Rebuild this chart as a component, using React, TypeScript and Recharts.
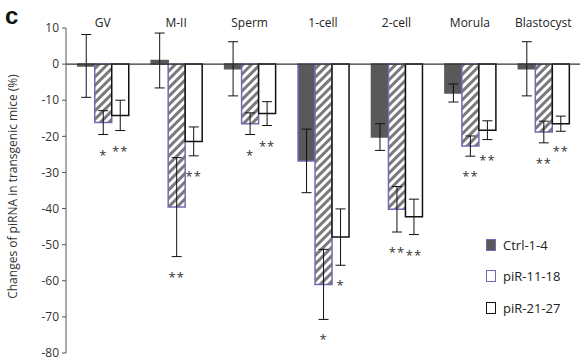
import React from "react";
import {
  BarChart,
  Bar,
  XAxis,
  YAxis,
  ErrorBar,
  ReferenceLine,
  LabelList,
  Cell,
} from "recharts";

const STAGES = ["GV", "M-II", "Sperm", "1-cell", "2-cell", "Morula", "Blastocyst"];
const CTRL = [-0.5, 1, -1.3, -26.8, -20.2, -8, -1.3];
const CTRL_ERR = [8.7, 7.6, 7.5, 8.8, 3.7, 2.5, 7.5];
const PIR11 = [-16.2, -39.6, -16.5, -61, -40.2, -22.7, -18.8];
const PIR11_ERR = [3.3, 13.7, 3, 9.7, 6.3, 2.8, 3];
const PIR21 = [-14.2, -21.4, -13.7, -47.9, -42.3, -18.3, -16.5];
const PIR21_ERR = [4.2, 4, 3.3, 7.8, 4.9, 2.6, 2.1];
const PIR11_SIG = ["*", "**", "*", "*", "**", "**", "**"];
const PIR21_SIG = ["**", "**", "**", "*", "**", "**", "**"];
const Y_TICKS = [10, 0, -10, -20, -30, -40, -50, -60, -70, -80];

const FONT = "'Open Sans', sans-serif";
const DARK = "#595959";
const PURPLE = "#6f6db0";

const data = STAGES.map((stage, i) => ({
  stage,
  ctrl: CTRL[i],
  ctrlErr: CTRL_ERR[i],
  pir11: PIR11[i],
  pir11Err: PIR11_ERR[i],
  pir21: PIR21[i],
  pir21Err: PIR21_ERR[i],
}));

// stars sit a little below the lower whisker of each bar
function sigLabel(sig: string[], means: number[], errs: number[]) {
  return (props: any) => {
    const vb = props.viewBox ?? props;
    const i = props.index ?? means.indexOf(props.value);
    const text = sig[i];
    if (!text || vb == null) return null;
    const top = Math.min(vb.y, vb.y + vb.height);
    const bottom = Math.max(vb.y, vb.y + vb.height);
    const k = (bottom - top) / Math.abs(means[i]);
    const yErr = bottom + errs[i] * k;
    return (
      <text
        x={vb.x + vb.width / 2}
        y={yErr + 25}
        textAnchor="middle"
        fontSize={13}
        fontFamily={FONT}
        fill="#333"
        letterSpacing={1}
      >
        {text}
      </text>
    );
  };
}

const LEGEND = [
  { name: "Ctrl-1-4", fill: DARK, stroke: PURPLE },
  { name: "piR-11-18", fill: "#fff", stroke: PURPLE },
  { name: "piR-21-27", fill: "#fff", stroke: "#111" },
];

function LegendBox() {
  return (
    <div
      style={{
        position: "absolute",
        left: 486,
        top: 229,
        fontFamily: FONT,
        fontSize: 13,
        color: "#222",
      }}
    >
      {LEGEND.map((l) => (
        <div key={l.name} style={{ display: "flex", alignItems: "center", height: 31.5 }}>
          <span
            style={{
              display: "inline-block",
              width: 8,
              height: 10,
              background: l.fill,
              border: `1.5px solid ${l.stroke}`,
              marginRight: 7,
            }}
          />
          {l.name}
        </div>
      ))}
    </div>
  );
}

export default function App() {
  return (
    <div style={{ position: "relative", width: 580, height: 362, background: "#fff" }}>
      <style>{`body{margin:0}`}</style>
      <svg width={0} height={0} style={{ position: "absolute" }}>
        <defs>
          <pattern id="hatch" width={6} height={6} patternUnits="userSpaceOnUse" patternTransform="rotate(45)">
            <rect width={6} height={6} fill="#fff" />
            <rect width={3} height={6} fill="#7a7a7a" />
          </pattern>
        </defs>
      </svg>
      <div
        style={{
          position: "absolute",
          left: 5,
          top: 5,
          lineHeight: "22px",
          fontFamily: "Arial, 'Liberation Sans', sans-serif",
          fontWeight: 700,
          fontSize: 24,
          color: "#111",
        }}
      >
        c
      </div>
      <BarChart
        width={580}
        height={362}
        data={data}
        margin={{ top: 0, right: 0, left: 0, bottom: 9 }}
        barCategoryGap="16%"
        barGap={0}
      >
        <XAxis
          dataKey="stage"
          orientation="top"
          height={28}
          axisLine={false}
          tickLine={false}
          tickSize={0}
          tickMargin={1}
          interval={0}
          tick={{ fontSize: 12, fill: "#222", fontFamily: FONT }}
        />
        <YAxis
          width={66}
          domain={[-80, 10]}
          ticks={Y_TICKS}
          interval={0}
          tickSize={4}
          tickMargin={3}
          axisLine={{ stroke: "#555" }}
          tickLine={{ stroke: "#555" }}
          tick={{ fontSize: 12, fill: "#333", fontFamily: FONT }}
          label={{
            value: "Changes of piRNA in transgenic mice (%)",
            angle: -90,
            position: "insideLeft",
            offset: 8,
            dx: 5,
            dy: -4,
            style: { textAnchor: "middle", fontSize: 12, fill: "#333", fontFamily: FONT },
          }}
        />
        <Bar dataKey="ctrl" fill={DARK} stroke={DARK} strokeWidth={1.5} isAnimationActive={false}>
          {data.map((d) => (
            <Cell key={d.stage} stroke={d.stage === "1-cell" ? PURPLE : DARK} />
          ))}
          <ErrorBar dataKey="ctrlErr" width={5} stroke="#111" strokeWidth={1} />
        </Bar>
        <Bar dataKey="pir11" fill="url(#hatch)" stroke={PURPLE} strokeWidth={1.5} isAnimationActive={false}>
          <ErrorBar dataKey="pir11Err" width={5} stroke="#111" strokeWidth={1} />
          <LabelList dataKey="pir11" content={sigLabel(PIR11_SIG, PIR11, PIR11_ERR)} />
        </Bar>
        <Bar dataKey="pir21" fill="#fff" stroke="#111" strokeWidth={1.5} isAnimationActive={false}>
          <ErrorBar dataKey="pir21Err" width={5} stroke="#111" strokeWidth={1} />
          <LabelList dataKey="pir21" content={sigLabel(PIR21_SIG, PIR21, PIR21_ERR)} />
        </Bar>
        <ReferenceLine y={0} stroke="#333" strokeWidth={1.2} />
      </BarChart>
      <LegendBox />
    </div>
  );
}
